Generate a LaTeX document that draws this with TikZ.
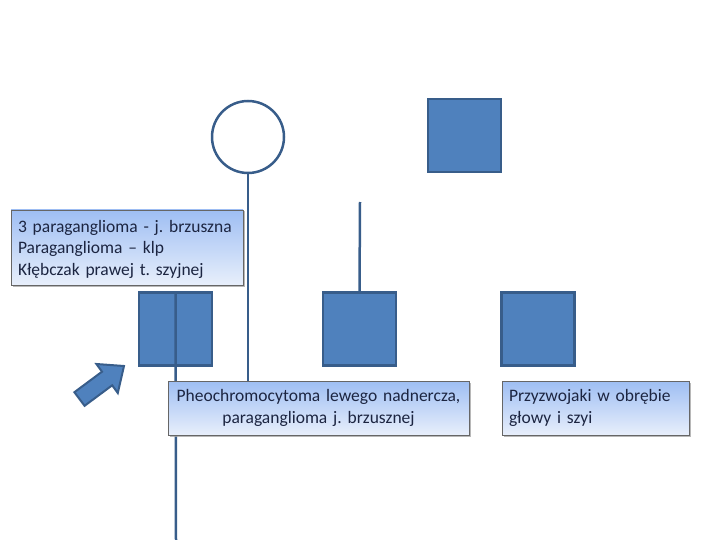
\documentclass[tikz,border=0pt]{standalone}
\usepackage{fontspec}
\setmainfont{Carlito}
\usetikzlibrary{shadows}
\definecolor{sqfill}{HTML}{4F81BD}
\definecolor{sqline}{HTML}{385D8A}
\definecolor{txtcol}{HTML}{1C2541}
\definecolor{boxtop}{HTML}{9EBEF3}
\definecolor{boxbot}{HTML}{E8EFFB}
\tikzset{
  sq/.style={draw=sqline, fill=sqfill, line width=2.5pt, minimum width=73pt, minimum height=73pt, inner sep=0pt},
  circ/.style={draw=sqline, fill=white, line width=2.5pt, circle, minimum size=72pt, inner sep=0pt},
  link/.style={draw=sqline, line width=2.5pt},
  tbox/.style={draw=gray!80!black, line width=0.6pt, top color=boxtop, bottom color=boxbot,
     drop shadow={shadow xshift=1.5pt, shadow yshift=-1.5pt, fill=gray!70, opacity=0.8},
     text=txtcol, font=\fontsize{17.5}{21.5}\selectfont, inner xsep=0pt, inner ysep=2pt},
  bigarrow/.style={draw=sqline, fill=sqfill, line width=2pt, line join=miter}
}
\begin{document}
\begin{tikzpicture}[x=1pt,y=-1pt]
\useasboundingbox (0,0) rectangle (720,540);
% shapes
\node[circ] (mother) at (248,137) {};
\node[sq] (topsq) at (464.5,135.5) {};
\node[sq] (leftsq) at (175.5,329) {};
\node[sq] (midsq) at (359.5,329) {};
\node[sq] (rightsq) at (538,329) {};
\coordinate (shorttop) at (360,202);
\coordinate (bottomend) at (176,540);
\coordinate (mline) at (248,400);
% connectors
\draw[link] (mother.south) -- (mline);
\draw[link] (shorttop) -- (midsq.north);
\draw[link] (leftsq.north) -- (bottomend);
% arrow
\draw[bigarrow] (74.4,392.2) -- (102,371.7) -- (96.4,364) -- (124,366) -- (117.8,393) -- (112.2,385.3) -- (84.6,405.8) -- cycle;
% text boxes
\node[tbox, minimum width=232pt, minimum height=75pt, align=left, text width=218pt] (info) at (127,247.5)
  {\frenchspacing\strut 3 paraganglioma - j. brzuszna\\Paraganglioma -- klp\\Kłębczak prawej t. szyjnej};
\node[tbox, minimum width=301pt, minimum height=54pt, align=center, text width=299pt] (pheo) at (318.5,408)
  {\frenchspacing Pheochromocytoma lewego nadnercza,\\paraganglioma j. brzusznej};
\node[tbox, minimum width=187pt, minimum height=54pt, align=left, text width=173pt] (przy) at (595.5,408)
  {\frenchspacing Przyzwojaki w obrębie\\głowy i szyi};
\end{tikzpicture}
\end{document}
